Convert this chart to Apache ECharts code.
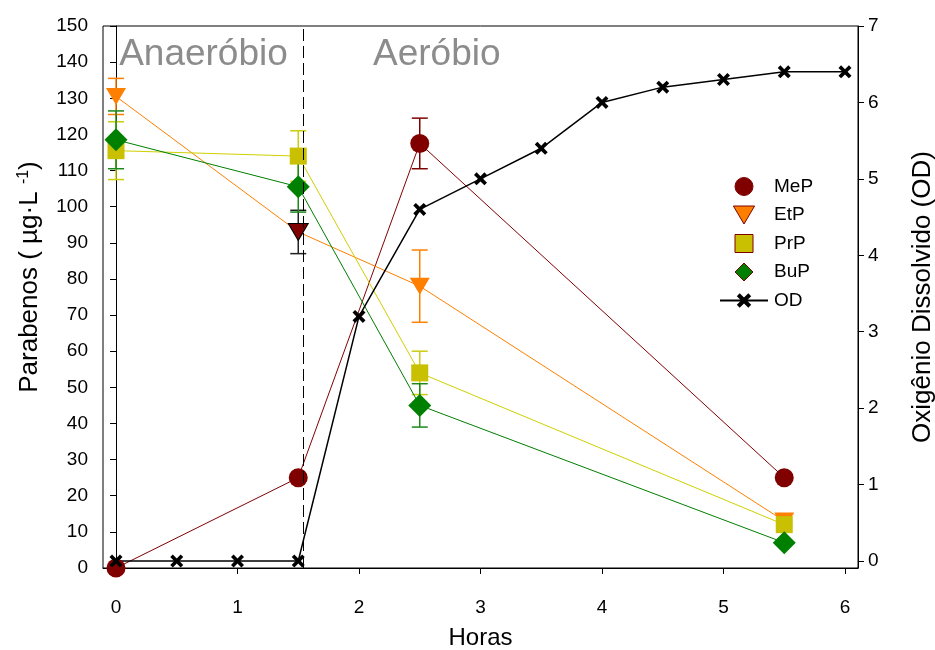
<!DOCTYPE html>
<html>
<head>
<meta charset="utf-8">
<script src="https://cdn.jsdelivr.net/npm/echarts@6/dist/echarts.min.js"></script>
<style>
  html, body { margin: 0; padding: 0; background: #fff; }
  #chart { width: 935px; height: 650px; }
</style>
</head>
<body>
<div id="chart"></div>
<script>
// Sampling times (h) for the parabens and for dissolved oxygen
const parabenTimes = [0, 1.5, 2.5, 5.5];
const odTimes = [0, 0.5, 1, 1.5, 2, 2.5, 3, 3.5, 4, 4.5, 5, 5.5, 6];

// Paraben concentrations (µg/L) and their standard deviations
const mepValues = [0, 25, 117.5, 25];
const mepErrors = [0, 0, 7, 0];
const etpValues = [130.5, 93, 78, 13];
const etpErrors = [5, 6, 10, 0];
const prpValues = [115.5, 114, 54, 12];
const prpErrors = [8, 7, 6, 0];
const bupValues = [118.5, 105.5, 45, 7];
const bupErrors = [8, 7, 6, 0];

// Dissolved oxygen (mg/L)
const odValues = [0, 0, 0, 0, 3.2, 4.6, 5.0, 5.4, 6.0, 6.2, 6.3, 6.4, 6.4];

// Axis ticks
const xTicks = [0, 1, 2, 3, 4, 5, 6];
const odTicks = [0, 1, 2, 3, 4, 5, 6, 7];

// Switch from anaerobic to aerobic phase
const phaseSwitch = 1.54;
const phaseNames = ['Anaeróbio', 'Aeróbio'];

const FONT = "'Liberation Sans', Arial, sans-serif";
const C_MEP = '#800000', C_ETP = '#FF8000', C_PRP = '#C8C000', C_BUP = '#008000';

function pairs(xs, ys) { return xs.map((x, i) => [x, ys[i]]); }

function errorData(xs, ys, es) {
  const out = [];
  xs.forEach((x, i) => { if (es[i] > 0) out.push([x, ys[i] - es[i], ys[i] + es[i], i]); });
  return out;
}

function errorSeries(name, xs, ys, es, color, overrides) {
  return {
    type: 'custom',
    name: name + ' err',
    xAxisIndex: 0, yAxisIndex: 0,
    z: 1,
    silent: true,
    data: errorData(xs, ys, es),
    renderItem(params, api) {
      const x = api.value(0);
      const idx = api.value(3);
      const top = api.coord([x, api.value(2)]);
      const bot = api.coord([x, api.value(1)]);
      const half = 8;
      const stroke = (overrides && overrides[idx]) || color;
      const st = { stroke: stroke, lineWidth: 1.5 };
      return {
        type: 'group',
        children: [
          { type: 'line', shape: { x1: top[0], y1: top[1], x2: bot[0], y2: bot[1] }, style: st },
          { type: 'line', shape: { x1: top[0] - half, y1: top[1], x2: top[0] + half, y2: top[1] }, style: st },
          { type: 'line', shape: { x1: bot[0] - half, y1: bot[1], x2: bot[0] + half, y2: bot[1] }, style: st }
        ]
      };
    }
  };
}

// Marker shapes
const crossPath = 'path://M2,0 L5,3 L8,0 L10,2 L7,5 L10,8 L8,10 L5,7 L2,10 L0,8 L3,5 L0,2 Z';
const downTriangle = 'path://M0,0 L20,0 L10,17 Z';
const squarePath = 'path://M0,0 L10,0 L10,10 L0,10 Z';
const diamondPath = 'path://M5,0 L10,5 L5,10 L0,5 Z';

const chart = echarts.init(document.getElementById('chart'), null, { renderer: 'canvas' });

const etpData = pairs(parabenTimes, etpValues).map((p, i) =>
  i === 1 ? { value: p, itemStyle: { color: C_MEP, borderColor: '#000', borderWidth: 1 } } : p);

const option = {
  backgroundColor: '#fff',
  animation: false,
  textStyle: { fontFamily: FONT },
  grid: {
    left: 103, top: 26, right: 77, bottom: 82,
    outerBoundsMode: 'none',
    containLabel: false,
    show: true, borderColor: '#000', borderWidth: 1, backgroundColor: 'transparent'
  },
  legend: {
    orient: 'vertical',
    left: 714, top: 172,
    itemWidth: 48, itemHeight: 18, itemGap: 9.5,
    symbolKeepAspect: true,
    textStyle: { fontFamily: FONT, fontSize: 19, color: '#000', padding: [0, 0, 0, 1] },
    itemStyle: { borderColor: C_MEP, borderWidth: 1 },
    data: [
      { name: 'MeP', icon: 'circle' },
      { name: 'EtP', icon: downTriangle },
      { name: 'PrP', icon: squarePath },
      { name: 'BuP', icon: diamondPath },
      { name: 'OD', itemStyle: { borderWidth: 0 } }
    ]
  },
  xAxis: {
    type: 'value',
    min: -0.107, max: 6.107,
    name: 'Horas',
    nameLocation: 'middle', nameGap: 58,
    nameTextStyle: { fontFamily: FONT, fontSize: 24, color: '#000' },
    axisLine: { show: true, lineStyle: { color: '#000', width: 1 } },
    axisTick: { show: true, length: 6, inside: false, customValues: xTicks, lineStyle: { color: '#000' } },
    axisLabel: { customValues: xTicks, margin: 30, fontFamily: FONT, fontSize: 19, color: '#000' },
    splitLine: { show: false }
  },
  yAxis: [
    {
      type: 'value', min: 0, max: 150, interval: 10,
      position: 'left',
      name: 'Parabenos ( µg·L {sup|-1})',
      nameLocation: 'middle', nameGap: 60, nameRotate: 90,
      nameTextStyle: {
        fontFamily: FONT, fontSize: 26, color: '#000',
        padding: [0, 0, 0, 40],
        rich: { sup: { fontFamily: FONT, fontSize: 16, color: '#000', verticalAlign: 'top', lineHeight: 27 } }
      },
      axisLine: { show: true, lineStyle: { color: '#000', width: 1 } },
      axisTick: { show: true, length: 6, lineStyle: { color: '#000' } },
      axisLabel: { margin: 15, fontFamily: FONT, fontSize: 19, color: '#000' },
      splitLine: { show: false }
    },
    {
      type: 'value', min: -0.0916, max: 7,
      position: 'right',
      name: 'Oxigênio Dissolvido (OD)',
      nameLocation: 'middle', nameGap: 52, nameRotate: 90,
      nameTextStyle: { fontFamily: FONT, fontSize: 26, color: '#000' },
      axisLine: { show: true, onZero: false, lineStyle: { color: '#000', width: 1 } },
      axisTick: { show: true, length: 6, customValues: odTicks, lineStyle: { color: '#000' } },
      axisLabel: { customValues: odTicks, margin: 10, fontFamily: FONT, fontSize: 19, color: '#000' },
      splitLine: { show: false }
    }
  ],
  series: [
    errorSeries('MeP', parabenTimes, mepValues, mepErrors, C_MEP),
    errorSeries('EtP', parabenTimes, etpValues, etpErrors, C_ETP, { 1: '#222' }),
    errorSeries('PrP', parabenTimes, prpValues, prpErrors, '#CCCC10'),
    errorSeries('BuP', parabenTimes, bupValues, bupErrors, '#1A8A1A'),
    {
      name: 'MeP', type: 'line', yAxisIndex: 0,
      data: pairs(parabenTimes, mepValues),
      symbol: 'circle', symbolSize: 19,
      itemStyle: { color: C_MEP },
      lineStyle: { color: C_MEP, width: 1 }
    },
    {
      name: 'EtP', type: 'line', yAxisIndex: 0,
      data: etpData,
      symbol: 'triangle', symbolSize: [20, 17], symbolRotate: 180,
      itemStyle: { color: C_ETP },
      lineStyle: { color: C_ETP, width: 1 }
    },
    {
      name: 'PrP', type: 'line', yAxisIndex: 0,
      data: pairs(parabenTimes, prpValues),
      symbol: 'rect', symbolSize: 17,
      itemStyle: { color: C_PRP },
      lineStyle: { color: '#D0D000', width: 1 }
    },
    {
      name: 'BuP', type: 'line', yAxisIndex: 0,
      data: pairs(parabenTimes, bupValues),
      symbol: 'diamond', symbolSize: 23,
      itemStyle: { color: C_BUP },
      lineStyle: { color: C_BUP, width: 1 }
    },
    {
      name: 'OD', type: 'line', yAxisIndex: 1,
      data: pairs(odTimes, odValues),
      symbol: crossPath, symbolSize: 13,
      itemStyle: { color: '#000' },
      lineStyle: { color: '#000', width: 1.5 },
      markLine: {
        silent: true,
        symbol: 'none',
        label: { show: false },
        lineStyle: { color: '#000', width: 1, type: [12, 5] },
        data: [{ xAxis: phaseSwitch }]
      }
    }
  ]
};

chart.setOption(option);

// Phase captions, anchored in data coordinates of the left axis
const anaPos = chart.convertToPixel({ xAxisIndex: 0, yAxisIndex: 0 }, [0.72, 142]);
const aerPos = chart.convertToPixel({ xAxisIndex: 0, yAxisIndex: 0 }, [2.64, 142]);
chart.setOption({
  graphic: [
    { type: 'text', x: anaPos[0], y: anaPos[1], silent: true,
      style: { text: phaseNames[0], fontFamily: FONT, fontSize: 37, fill: '#8C8C8C', align: 'center', verticalAlign: 'middle' } },
    { type: 'text', x: aerPos[0], y: aerPos[1], silent: true,
      style: { text: phaseNames[1], fontFamily: FONT, fontSize: 37, fill: '#8C8C8C', align: 'center', verticalAlign: 'middle' } }
  ]
});
</script>
</body>
</html>
